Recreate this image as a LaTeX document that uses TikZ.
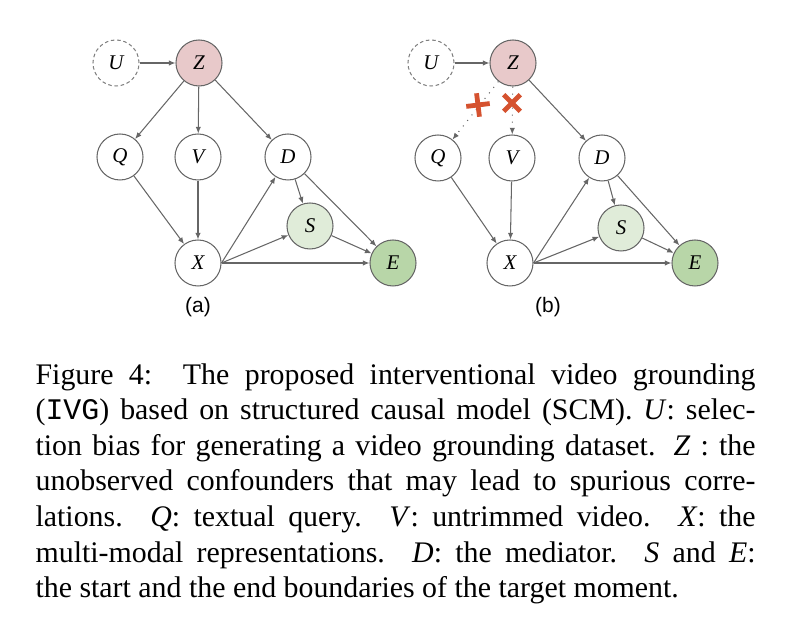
\documentclass[tikz,border=0pt]{standalone}
\usepackage{fontspec}
\setmainfont{Liberation Serif}
\setsansfont{Liberation Sans}
\setmonofont{Liberation Mono}
\usepackage{xcolor}
\usetikzlibrary{arrows.meta,shapes.misc}

\definecolor{zpink}{HTML}{E8C9CA}
\definecolor{spale}{HTML}{E0ECD9}
\definecolor{egreen}{HTML}{B8D6A8}
\definecolor{edgegray}{HTML}{666666}
\definecolor{crossred}{HTML}{D5522F}

\tikzset{
    var/.style={circle, draw=edgegray, line width=0.35pt, minimum size=15.4pt, inner sep=0pt,
        font=\fontsize{7}{8}\selectfont\itshape},
    hidden/.style={var, draw=gray, dash pattern=on 1.2pt off 0.9pt},
    edge/.style={draw=edgegray, line width=0.35pt, -{Latex[length=2.2pt,width=1.8pt]}},
    cut/.style={edge, dotted},
    cross/.style={cross out, draw=crossred, line width=1.6pt, minimum size=4pt, inner sep=0pt},
    sublabel/.style={font=\sffamily\fontsize{7}{8}\selectfont},
}

\begin{document}
\begin{tikzpicture}[x=0.3347pt, y=-0.3347pt]
    \useasboundingbox (0,0) rectangle (790,630);
    % (a)
    \node[hidden] (aU) at (116,63) {U};
    \node[var, fill=zpink] (aZ) at (199,63) {Z};
    \node[var] (aQ) at (120,157) {Q};
    \node[var] (aV) at (198,157) {V};
    \node[var] (aD) at (288,157) {D};
    \node[var, fill=spale] (aS) at (310,226) {S};
    \node[var] (aX) at (198,263) {X};
    \node[var, fill=egreen] (aE) at (393,263) {E};
    \draw[edge] (aU) -- (aZ);
    \draw[edge] (aZ) -- (aQ);
    \draw[edge] (aZ) -- (aV);
    \draw[edge] (aZ) -- (aD);
    \draw[edge] (aQ) -- (aX);
    \draw[edge] (aV) -- (aX);
    \draw[edge] (aX.east) -- (aD);
    \draw[edge] (aX.east) -- (aS);
    \draw[edge] (aX.east) -- (aE);
    \draw[edge] (aD) -- (aS);
    \draw[edge] (aD) -- (aE);
    \draw[edge] (aS) -- (aE);
    \node[sublabel] (la) at (198,307) {(a)};
    % (b)
    \node[hidden] (bU) at (431,63) {U};
    \node[var, fill=zpink] (bZ) at (513,63) {Z};
    \node[var] (bQ) at (438,158) {Q};
    \node[var] (bV) at (512,158) {V};
    \node[var] (bD) at (602,158) {D};
    \node[var, fill=spale] (bS) at (621,228) {S};
    \node[var] (bX) at (510,263) {X};
    \node[var, fill=egreen] (bE) at (695,263) {E};
    \draw[edge] (bU) -- (bZ);
    \draw[cut] (bZ) -- (bQ);
    \draw[cut] (bZ) -- (bV);
    \draw[edge] (bZ) -- (bD);
    \draw[edge] (bQ) -- (bX);
    \draw[edge] (bV) -- (bX);
    \draw[edge] (bX.east) -- (bD);
    \draw[edge] (bX.east) -- (bS);
    \draw[edge] (bX.east) -- (bE);
    \draw[edge] (bD) -- (bS);
    \draw[edge] (bD) -- (bE);
    \draw[edge] (bS) -- (bE);
    \node[cross, rotate=52] (cq) at (478,105) {};
    \node[cross] (cv) at (512,103) {};
    \node[sublabel] (lb) at (548,307) {(b)};
    % caption
    \node[anchor=north west, inner sep=0pt, text width=241pt, align=justify,
        font=\fontsize{10}{11.9}\selectfont] (cap) at (35,363) {%
        Figure 4:\ \ The proposed interventional video grounding\linebreak
        (\texttt{IVG}) based on structured causal model (SCM). \textit{U}: selec-\linebreak
        tion bias for generating a video grounding dataset. \textit{Z} : the\linebreak
        unobserved confounders that may lead to spurious corre-\linebreak
        lations. \textit{Q}: textual query. \textit{V}: untrimmed video. \textit{X}: the\linebreak
        multi-modal representations. \textit{D}: the mediator. \textit{S} and \textit{E}:\linebreak
        the start and the end boundaries of the target moment.};
\end{tikzpicture}
\end{document}
